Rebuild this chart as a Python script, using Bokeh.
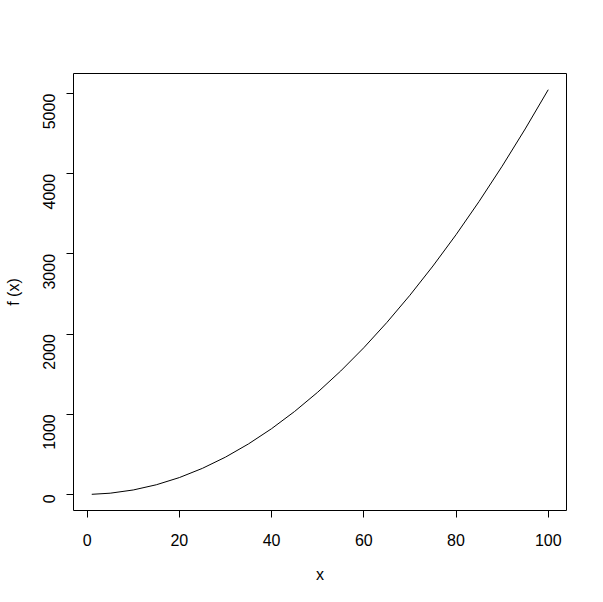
import math
from bokeh.plotting import figure
from bokeh.models import Range1d, FixedTicker, ColumnDataSource
from bokeh.embed import file_html
from bokeh.resources import INLINE

# data
x_vals = [1, 5, 10, 15, 20, 25, 30, 35, 40, 45, 50, 55, 60, 65, 70, 75, 80, 85, 90, 95, 100]
f_vals = [1, 15, 55, 120, 210, 325, 465, 630, 820, 1035, 1275, 1540, 1830, 2145, 2485, 2850, 3240, 3655, 4095, 4560, 5050]
x_ticks = [0, 20, 40, 60, 80, 100]
y_ticks = [0, 1000, 2000, 3000, 4000, 5000]

src = ColumnDataSource(data=dict(x=x_vals, y=f_vals))

W, H = 595, 594
p = figure(width=W, height=H, output_backend="svg", toolbar_location=None,
           x_range=Range1d(-2.96, 103.96), y_range=Range1d(-201, 5252),
           min_border_left=73, min_border_right=29, min_border_top=73, min_border_bottom=84)
p.line("x", "y", source=src, line_color="black", line_width=1)

p.grid.visible = False
p.background_fill_color = "white"
p.border_fill_color = "white"
p.outline_line_color = "black"
p.outline_line_width = 1

FONT = "Liberation Sans"
for ax in (p.xaxis[0], p.yaxis[0]):
    ax.axis_line_color = None
    ax.major_tick_out = 7
    ax.major_tick_in = 0
    ax.major_tick_line_color = "black"
    ax.minor_tick_line_color = None
    ax.major_label_text_font = FONT
    ax.major_label_text_font_size = "16px"
    ax.major_label_text_color = "black"
    ax.axis_label_text_font = FONT
    ax.axis_label_text_font_size = "16px"
    ax.axis_label_text_font_style = "normal"
    ax.axis_label_text_color = "black"

p.xaxis[0].ticker = FixedTicker(ticks=x_ticks)
p.yaxis[0].ticker = FixedTicker(ticks=y_ticks)
p.xaxis[0].axis_label = "x"
p.yaxis[0].axis_label = "f (x)"
p.xaxis[0].major_label_standoff = 16
p.xaxis[0].axis_label_standoff = 17
p.yaxis[0].major_label_standoff = 17
p.yaxis[0].axis_label_standoff = 13
p.yaxis[0].major_label_orientation = math.pi / 2

open("out.html", "w").write(file_html(p, INLINE))
